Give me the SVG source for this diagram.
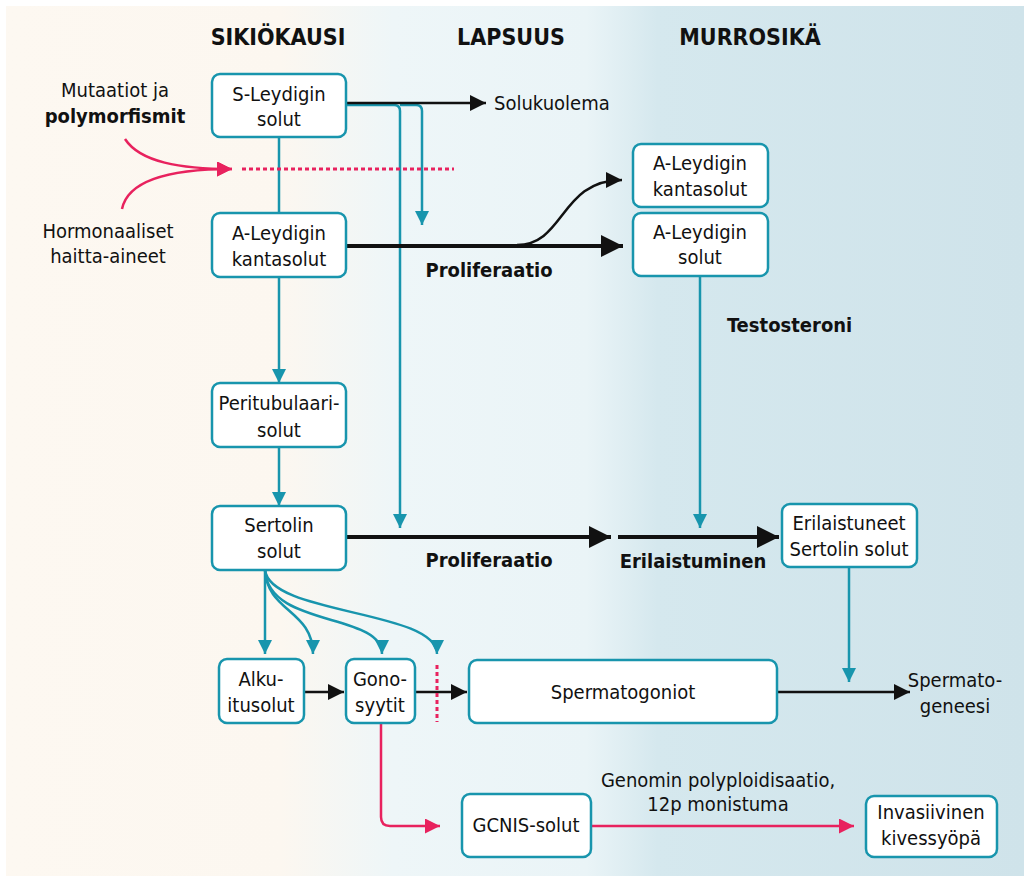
<svg xmlns="http://www.w3.org/2000/svg" width="1024" height="876" viewBox="0 0 1024 876">
<defs>
<linearGradient id="bg" x1="6" y1="0" x2="1024" y2="0" gradientUnits="userSpaceOnUse">
<stop offset="0" stop-color="#fdf8f1"/>
<stop offset="0.27" stop-color="#fcf7f0"/>
<stop offset="0.38" stop-color="#eef6f8"/>
<stop offset="0.57" stop-color="#eaf4f7"/>
<stop offset="0.64" stop-color="#d5e8ee"/>
<stop offset="1" stop-color="#cfe3ea"/>
</linearGradient>
<marker id="aT" viewBox="0 0 14 14" refX="14" refY="7" markerWidth="14" markerHeight="14" markerUnits="userSpaceOnUse" orient="auto"><path d="M0,0 L14,7 L0,14 Z" fill="#1895ad"/></marker>
<marker id="aK" viewBox="0 0 16 16" refX="16" refY="8" markerWidth="16" markerHeight="16" markerUnits="userSpaceOnUse" orient="auto"><path d="M0,0 L16,8 L0,16 Z" fill="#111"/></marker>
<marker id="aKL" viewBox="0 0 22 22" refX="22" refY="11" markerWidth="22" markerHeight="22" markerUnits="userSpaceOnUse" orient="auto"><path d="M0,0 L22,11 L0,22 Z" fill="#111"/></marker>
<marker id="aP" viewBox="0 0 15 15" refX="15" refY="7.5" markerWidth="15" markerHeight="15" markerUnits="userSpaceOnUse" orient="auto"><path d="M0,0 L15,7.5 L0,15 Z" fill="#e8225e"/></marker>
</defs>
<style>
text{font-family:"Liberation Sans Narrow","DejaVu Sans Condensed","Roboto Condensed","Liberation Sans",sans-serif;font-stretch:condensed;font-size:20px;fill:#111;text-anchor:middle}
.b{font-weight:bold}
.h{font-weight:bold;font-size:23px}
.l{text-anchor:start}
.box{fill:#fff;stroke:#1895ad;stroke-width:2.5}
.t{fill:none;stroke:#1895ad;stroke-width:2.5}
.k{fill:none;stroke:#111;stroke-width:2.5}
.kb{fill:none;stroke:#111;stroke-width:4}
.p{fill:none;stroke:#e8225e;stroke-width:2.5}
.pd{fill:none;stroke:#e8225e;stroke-width:3;stroke-dasharray:4 3}
</style>
<rect x="6" y="6" width="1018" height="870" fill="url(#bg)"/>
<g id="headers">
<text class="h" x="278" y="45">SIKIÖKAUSI</text>
<text class="h" x="511" y="45">LAPSUUS</text>
<text class="h" x="750" y="45">MURROSIKÄ</text>
</g>
<g id="connectors">
<path class="t" d="M279,137 V213"/>
<path class="t" d="M279,277 V383" marker-end="url(#aT)"/>
<path class="t" d="M279,447 V506" marker-end="url(#aT)"/>
<path class="t" d="M346,105 H394 Q400,105 400,111 V528" marker-end="url(#aT)"/>
<path class="t" d="M400,105 H416 Q422,105 422,111 V225" marker-end="url(#aT)"/>
<path class="k" d="M346,103 H486" marker-end="url(#aK)"/>
<path class="kb" d="M346,246 H623" marker-end="url(#aKL)"/>
<path class="k" d="M517,245 C565,245 560,180 622,180" marker-end="url(#aK)"/>
<path class="t" d="M700,276 V528" marker-end="url(#aT)"/>
<path class="kb" d="M346,537 H611" marker-end="url(#aKL)"/>
<path class="kb" d="M618,537 H779" marker-end="url(#aKL)"/>
<path class="t" d="M849,567 V682" marker-end="url(#aT)"/>
<path class="k" d="M777,692 H910" marker-end="url(#aK)"/>
<path class="t" d="M265,570 V654" marker-end="url(#aT)"/>
<path class="t" d="M265,570 C267,612 313,610 313,654" marker-end="url(#aT)"/>
<path class="t" d="M265,570 C268,628 382,612 382,654" marker-end="url(#aT)"/>
<path class="t" d="M265,570 C270,615 437,610 437,654" marker-end="url(#aT)"/>
<path class="k" d="M304,692 H344" marker-end="url(#aK)"/>
<path class="k" d="M415,692 H467" marker-end="url(#aK)"/>
<path class="pd" d="M437,665 V722"/>
<path class="pd" d="M242,169 H454"/>
<path class="p" d="M125,139 C140,162 180,169 232,169" marker-end="url(#aP)"/>
<path class="p" d="M122,209 C128,180 170,169 232,169" marker-end="url(#aP)"/>
<path class="p" d="M381,723 V817 Q381,826 390,826 H440" marker-end="url(#aP)"/>
<path class="p" d="M591,826 H854" marker-end="url(#aP)"/>
</g>
<g id="labels">
<text x="115" y="97">Mutaatiot ja</text>
<text class="b" x="115" y="123">polymorfismit</text>
<text x="108" y="238">Hormonaaliset</text>
<text x="108" y="263">haitta-aineet</text>
<text class="l" x="494" y="110">Solukuolema</text>
<text class="b" x="489" y="277">Proliferaatio</text>
<text class="b l" x="727" y="332">Testosteroni</text>
<text class="b" x="489" y="567">Proliferaatio</text>
<text class="b" x="693" y="568">Erilaistuminen</text>
<text x="955" y="687">Spermato-</text>
<text x="955" y="713">geneesi</text>
<text x="718" y="787">Genomin polyploidisaatio,</text>
<text x="718" y="811">12p monistuma</text>
</g>
<g id="n-sleydig"><rect class="box" x="212" y="74" width="134" height="63" rx="8"/><text x="279" y="101">S-Leydigin</text><text x="279" y="126">solut</text></g>
<g id="n-aleydig-kanta"><rect class="box" x="212" y="213" width="134" height="64" rx="8"/><text x="279" y="240">A-Leydigin</text><text x="279" y="266">kantasolut</text></g>
<g id="n-peritub"><rect class="box" x="212" y="383" width="134" height="64" rx="8"/><text x="279" y="410">Peritubulaari-</text><text x="279" y="437">solut</text></g>
<g id="n-sertoli"><rect class="box" x="212" y="506" width="134" height="64" rx="8"/><text x="279" y="532">Sertolin</text><text x="279" y="558">solut</text></g>
<g id="n-alku"><rect class="box" x="219" y="659" width="85" height="64" rx="8"/><text x="261" y="686">Alku-</text><text x="261" y="712">itusolut</text></g>
<g id="n-gono"><rect class="box" x="346" y="659" width="69" height="64" rx="8"/><text x="380" y="686">Gono-</text><text x="380" y="712">syytit</text></g>
<g id="n-spermatogoniot"><rect class="box" x="469" y="660" width="308" height="63" rx="8"/><text x="623" y="699">Spermatogoniot</text></g>
<g id="n-gcnis"><rect class="box" x="462" y="794" width="129" height="63" rx="8"/><text x="526" y="832">GCNIS-solut</text></g>
<g id="n-invasiivinen"><rect class="box" x="866" y="796" width="131" height="61" rx="8"/><text x="931" y="819">Invasiivinen</text><text x="931" y="845">kivessyöpä</text></g>
<g id="n-erilaistuneet"><rect class="box" x="782" y="504" width="135" height="63" rx="8"/><text x="849" y="530">Erilaistuneet</text><text x="849" y="556">Sertolin solut</text></g>
<g id="n-aleydig-kanta2"><rect class="box" x="633" y="144" width="135" height="63" rx="8"/><text x="700" y="170">A-Leydigin</text><text x="700" y="196">kantasolut</text></g>
<g id="n-aleydig2"><rect class="box" x="633" y="213" width="135" height="63" rx="8"/><text x="700" y="239">A-Leydigin</text><text x="700" y="264">solut</text></g>
</svg>
